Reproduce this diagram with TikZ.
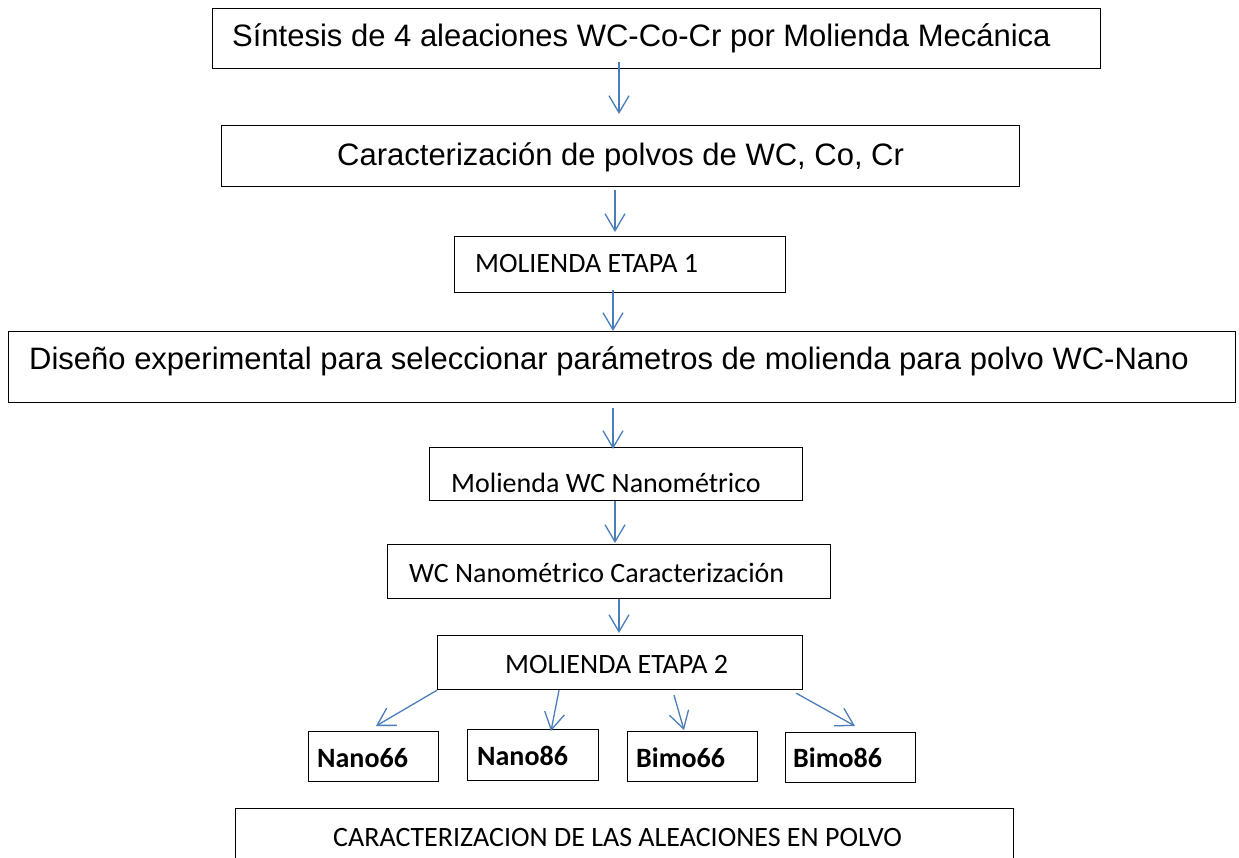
\documentclass[tikz,border=0pt]{standalone}
\usepackage{fontspec}
\newfontfamily\arialf{Liberation Sans}
\newfontfamily\calf{Carlito}
\usetikzlibrary{arrows.meta,calc}
\definecolor{arrblue}{HTML}{4A7EBB}
\begin{document}
\begin{tikzpicture}[x=1pt,y=-1pt,
 box/.style={draw=black,line width=1.2pt,inner sep=0pt,anchor=north west},
 txt/.style={anchor=base west,inner sep=0pt},
 big/.style={txt,font=\arialf\fontsize{31}{36}\selectfont},
 cal/.style={txt,font=\calf\fontsize{28}{32}\selectfont},
 calb/.style={txt,font=\calf\bfseries\fontsize{28}{32}\selectfont},
 arr/.style={draw=arrblue,line width=1.3pt,-{Straight Barb[length=17pt,width=20pt,line width=1.3pt]}}]
\clip (0,0) rectangle (1239,858);
\fill[white] (0,0) rectangle (1239,858);
% boxes
\node[box,minimum width=888pt,minimum height=60pt] (b1) at (212,8) {};
\node[box,minimum width=798pt,minimum height=61pt] (b2) at (221,125) {};
\node[box,minimum width=331pt,minimum height=56pt] (b3) at (454,236) {};
\node[box,minimum width=1227pt,minimum height=71pt] (b4) at (8,331) {};
\node[box,minimum width=373pt,minimum height=53pt] (b5) at (429,447) {};
\node[box,minimum width=443pt,minimum height=54pt] (b6) at (387,544) {};
\node[box,minimum width=365pt,minimum height=54pt] (b7) at (437,635) {};
\node[box,minimum width=130pt,minimum height=50pt] (n66) at (308,731) {};
\node[box,minimum width=131pt,minimum height=51pt] (n86) at (467,729) {};
\node[box,minimum width=130pt,minimum height=50pt] (m66) at (627,731) {};
\node[box,minimum width=130pt,minimum height=50pt] (m86) at (785,732) {};
\node[box,minimum width=778pt,minimum height=90pt] (b8) at (235,808) {};
% texts
\node[big] (t1) at (232,47) {Síntesis de 4 aleaciones WC-Co-Cr por Molienda Mecánica};
\node[big] (t2) at (337,166) {Caracterización de polvos de WC, Co, Cr};
\node[cal] (t3) at (475,273) {MOLIENDA ETAPA 1};
\node[big] (t4) at (29,370) {Diseño experimental para seleccionar parámetros de molienda para polvo WC-Nano};
\node[cal] (t5) at (451,492) {Molienda WC Nanométrico};
\node[cal] (t6) at (409,582) {WC Nanométrico Caracterización};
\node[cal] (t7) at (505,673) {MOLIENDA ETAPA 2};
\node[calb] (tn66) at (317,767) {Nano66};
\node[calb] (tn86) at (477,765) {Nano86};
\node[calb] (tm66) at (636,767) {Bimo66};
\node[calb] (tm86) at (793,767) {Bimo86};
\node[cal] (t8) at (333,846) {CARACTERIZACION DE LAS ALEACIONES EN POLVO};
% arrow x positions
\coordinate (x1) at (619,0);
\coordinate (x2) at (615,0);
\coordinate (x3) at (613,0);
\coordinate (x4) at (613,0);
\coordinate (x5) at (615,0);
\coordinate (x6) at (619,0);
\draw[arr,shorten <=-7pt,shorten >=11pt] (b1.south -| x1) -- (b2.north -| x1);
\draw[arr,shorten <=3pt,shorten >=4pt] (b2.south -| x2) -- (b3.north -| x2);
\draw[arr,shorten <=-3pt] (b3.south -| x3) -- (b4.north -| x3);
\draw[arr,shorten <=5pt,shorten >=-2pt] (b4.south -| x4) -- (b5.north -| x4);
\draw[arr,shorten >=1pt] (b5.south -| x5) -- (b6.north -| x5);
\draw[arr,shorten >=2pt] (b6.south -| x6) -- (b7.north -| x6);
% branching arrows
\coordinate (e1) at (376,726);
\coordinate (e2) at (551,731);
\coordinate (e3) at (684,730);
\coordinate (e4) at (855,726);
\draw[arr] (b7.south west) -- (e1);
\draw[arr] ($(b7.south west)+(122,0)$) -- (e2);
\draw[arr] ($(b7.south west)+(237,5)$) -- (e3);
\draw[arr] ($(b7.south east)+(-7,3)$) -- (e4);
\end{tikzpicture}
\end{document}
